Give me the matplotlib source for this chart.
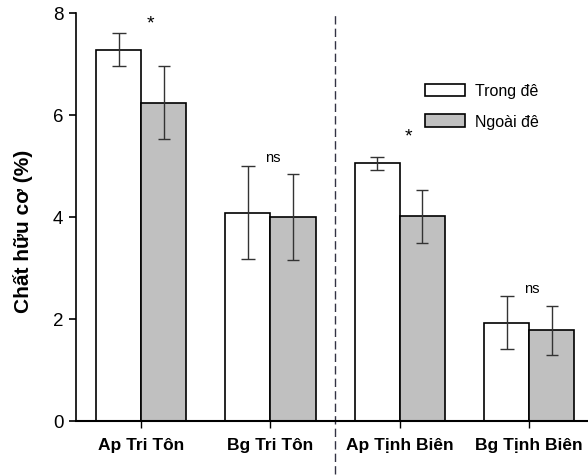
import numpy as np
import matplotlib
matplotlib.use("Agg")
import matplotlib.pyplot as plt

plt.rcParams['font.family'] = ['Liberation Sans', 'DejaVu Sans']

groups = ["Ap Tri Tôn", "Bg Tri Tôn", "Ap Tịnh Biên", "Bg Tịnh Biên"]
trong_de = [7.28, 4.08, 5.05, 1.92]
trong_de_err = [0.33, 0.91, 0.13, 0.52]
ngoai_de = [6.24, 4.00, 4.01, 1.77]
ngoai_de_err = [0.72, 0.84, 0.52, 0.48]
signif = ["*", "ns", "*", "ns"]
signif_y = [7.80, 5.17, 5.58, 2.60]

fig = plt.figure(figsize=(5.88, 4.77), dpi=100)
ax = fig.add_axes([0.129, 0.116, 0.871, 0.855])

x = np.arange(len(groups))
w = 0.348
ekw = dict(ecolor='#333333', elinewidth=1.0, capthick=1.0)

ax.bar(x - w/2, trong_de, w, yerr=trong_de_err, color='white', edgecolor='black',
       linewidth=1.2, capsize=4.8, error_kw=ekw, label="Trong đê", zorder=2)
ax.bar(x + w/2, ngoai_de, w, yerr=ngoai_de_err, color='#c0c0c0', edgecolor='black',
       linewidth=1.2, capsize=4.5, error_kw=ekw, label="Ngoài đê", zorder=2)

for xi, s, ys in zip(x, signif, signif_y):
    if s == "*":
        ax.text(xi + 0.07, ys, s, ha='center', va='center', fontsize=14)
    else:
        ax.text(xi + 0.02, ys, s, ha='center', va='center', fontsize=10.5)

# separator between the two districts
ax.axvline(1.5, ymin=-0.13, ymax=0.995, color='#333344', linestyle=(0, (6, 3)),
           linewidth=1.0, clip_on=False)

ax.set_xlim(-0.505, 3.455)
ax.set_ylim(0, 8)
ax.set_yticks([0, 2, 4, 6, 8])
ax.set_xticks(x)
ax.set_xticklabels(groups, fontweight='bold', fontsize=12.5)
ax.tick_params(axis='y', labelsize=13.5, length=5, width=1.2, pad=4)
ax.tick_params(axis='x', length=5, width=1.0, pad=7)
ax.spines['top'].set_visible(False)
ax.spines['right'].set_visible(False)
ax.spines['left'].set_linewidth(1.2)
ax.spines['bottom'].set_linewidth(1.5)
ax.set_ylabel("Chất hữu cơ (%)", fontweight='bold', fontsize=15)
ax.yaxis.set_label_coords(-0.084, 0.467)

ax.legend(loc='upper left', bbox_to_anchor=(0.654, 0.862), frameon=False,
          fontsize=11.5, handlelength=2.5, handleheight=0.85, labelspacing=0.95,
          handletextpad=0.6)

fig.savefig("out.png", dpi=100)
